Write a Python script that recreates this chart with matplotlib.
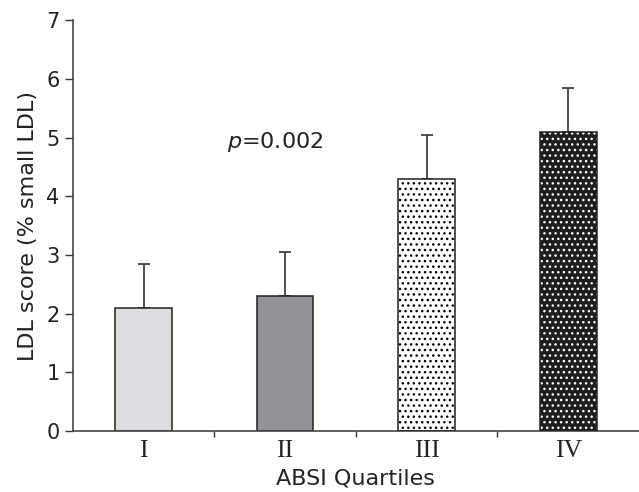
import matplotlib
matplotlib.use("Agg")
import matplotlib.pyplot as plt

quartiles = ["I", "II", "III", "IV"]
ldl_score = [2.1, 2.3, 4.3, 5.1]
ldl_err = [0.75, 0.75, 0.75, 0.75]
face = ["#dcdde0", "#929396", "white", "#1e1e1e"]
hatch_col = [None, None, "black", "white"]

fig = plt.figure(figsize=(6.39, 4.92), dpi=100)
ax = fig.add_axes([0.114, 0.124, 0.886, 0.835])

x = range(len(quartiles))
for i in x:
    if hatch_col[i] is None:
        ax.bar(i, ldl_score[i], width=0.4, color=face[i], edgecolor="#222222", lw=1.1, zorder=2)
    else:
        ax.bar(i, ldl_score[i], width=0.4, color=face[i], edgecolor=hatch_col[i],
               hatch="...", lw=0, zorder=2)
        ax.bar(i, ldl_score[i], width=0.4, fill=False, edgecolor="#222222", lw=1.1, zorder=3)
    ax.errorbar(i, ldl_score[i], yerr=[[0], [ldl_err[i]]], fmt="none", ecolor="#333333",
                elinewidth=1.2, capsize=4, capthick=1.2, zorder=1)

ax.set_xlim(-0.5, 3.5)
ax.set_ylim(0, 7)
ax.set_yticks(range(8))
ax.set_xticks([0.5, 1.5, 2.5])
ax.set_xticklabels([])
ax.tick_params(axis="x", length=4, width=1, color="#333333")
ax.tick_params(axis="y", length=6, width=1, color="#333333", labelsize=15, labelcolor="#222222")
for i in x:
    ax.text(i, -0.15, quartiles[i], ha="center", va="top", fontsize=18.5,
            family="Liberation Serif", color="#222222")
for s in ["top", "right"]:
    ax.spines[s].set_visible(False)
for s in ["left", "bottom"]:
    ax.spines[s].set_color("#444444")
    ax.spines[s].set_linewidth(1.2)

ax.set_ylabel("LDL score (% small LDL)", fontsize=16, color="#222222", labelpad=6)
ax.text(1.5, -0.81, "ABSI Quartiles", fontsize=16, color="#222222", va="center", ha="center")
ax.text(0.93, 4.92, "$\\it{p}$=0.002", fontsize=16, color="#222222", va="center", ha="center")

fig.savefig("out.png", dpi=100)
